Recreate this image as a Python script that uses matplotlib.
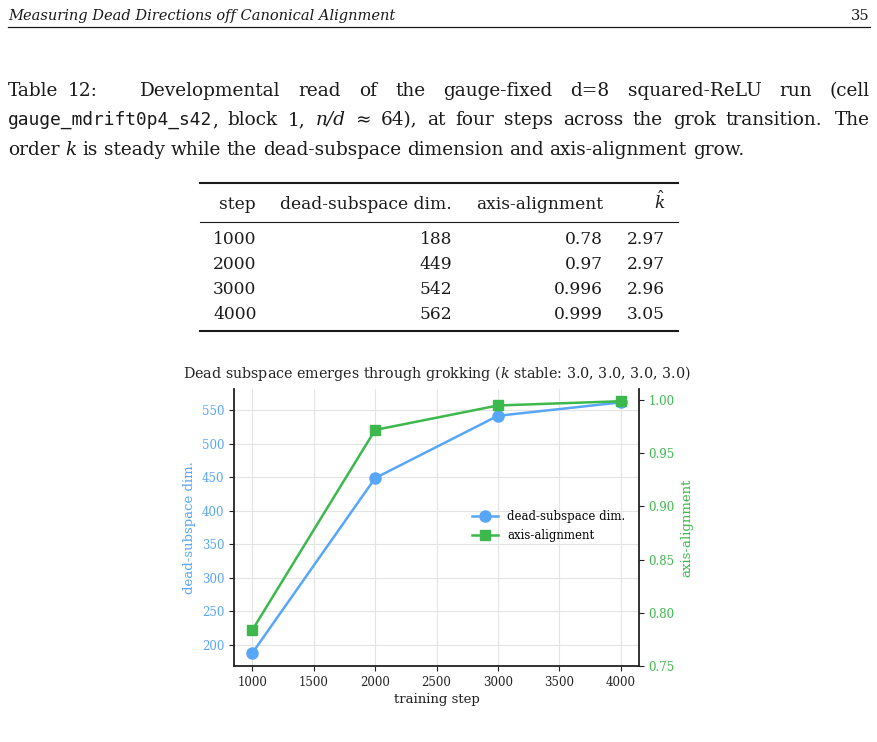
import matplotlib
matplotlib.use("Agg")
import matplotlib.pyplot as plt
from matplotlib.lines import Line2D

# ---------------- data ----------------
steps = [1000, 2000, 3000, 4000]
dead_dim = [188, 449, 542, 562]
axis_align = [0.784, 0.972, 0.995, 0.999]
k_hat = [2.97, 2.97, 2.96, 3.05]
table_align_labels = ["0.78", "0.97", "0.996", "0.999"]
table_header = ["step", "dead-subspace dim.", "axis-alignment"]
left_ticks = [200, 250, 300, 350, 400, 450, 500, 550]
right_ticks = [0.75, 0.80, 0.85, 0.90, 0.95, 1.00]
x_ticks = [1000, 1500, 2000, 2500, 3000, 3500, 4000]

BLUE = "#58a6f6"
GREEN = "#3db84c"
TXT = "#1a1a1a"

plt.rcParams["mathtext.fontset"] = "dejavuserif"
W, H = 877, 742
fig = plt.figure(figsize=(W / 100, H / 100), dpi=100)
renderer = fig.canvas.get_renderer()

def fx(x):
    return x / W

def fy(y):
    return 1 - y / H

SERIF = "DejaVu Serif"
MONO = "DejaVu Sans Mono"
MONO_SCALE = 0.97

def piece_width(text, size, family=SERIF, style="normal"):
    t = fig.text(0, 0, text, fontsize=size, family=family, style=style)
    w = t.get_window_extent(renderer).width
    t.remove()
    return w

line3 = [[("order", "n")], [("k", "i")], [("is", "n")], [("steady", "n")], [("while", "n")],
         [("the", "n")], [("dead-subspace", "n")], [("dimension", "n")], [("and", "n")],
         [("axis-alignment", "n")], [("grow.", "n")]]

def pw(p, size):
    txt, st = p
    if st == "m":
        return piece_width(txt, size * MONO_SCALE, MONO)
    if st == "i":
        return piece_width(txt, size, SERIF, "italic")
    return piece_width(txt, size)

def word_w(word, size):
    return sum(pw(p, size) for p in word)

def draw_piece(x, base, p, size):
    txt, st = p
    kw = dict(fontsize=size, color=TXT, va="baseline", ha="left")
    if st == "m":
        fig.text(fx(x), fy(base), txt, family=MONO, fontsize=size * MONO_SCALE, color=TXT, va="baseline")
    elif st == "i":
        fig.text(fx(x), fy(base), txt, family=SERIF, style="italic", **kw)
    else:
        fig.text(fx(x), fy(base), txt, family=SERIF, **kw)
    return pw(p, size)

def draw_line(words, x0, x1, base, size, justify=True, weights=None):
    widths = [word_w(w, size) for w in words]
    n = len(words) - 1
    if weights is None:
        weights = [1.0] * n
    if justify:
        unit = (x1 - x0 - sum(widths)) / sum(weights)
        gaps = [unit * wt for wt in weights]
    else:
        sp = piece_width("a b", size) - piece_width("ab", size)
        gaps = [sp] * n
    x = x0
    for i, (w, ww) in enumerate(zip(words, widths)):
        xx = x
        for p in w:
            xx += draw_piece(xx, base, p, size)
        if i < n:
            x += ww + gaps[i]

base_size = 10.0
space = piece_width("a b", base_size) - piece_width("ab", base_size)
nat = sum(word_w(w, base_size) for w in line3) + space * (len(line3) - 1)
cap_size = base_size * 740 / nat

line1 = [[(s, "n")] for s in ["Table", "12:", "Developmental", "read", "of", "the",
                               "gauge-fixed", "d=8", "squared-ReLU", "run", "(cell"]]
line2 = [[("gauge_mdrift0p4_s42", "m"), (",", "n")], [("block", "n")], [("1,", "n")],
         [("n/d", "i")], [("≈", "n")], [("64),", "n")], [("at", "n")], [("four", "n")],
         [("steps", "n")], [("across", "n")], [("the", "n")], [("grok", "n")],
         [("transition.", "n")], [("The", "n")]]

draw_line(line1, 8, 870, 96, cap_size, weights=[0.5, 2.4] + [1.0] * 8)
draw_line(line2, 8, 870, 125, cap_size, weights=[1.0] * 12 + [1.3])
draw_line(line3, 8, 870, 155, cap_size, justify=False)

# ---------------- page header ----------------
hdr = "Measuring Dead Directions off Canonical Alignment"
hs = 10.0 * 387 / piece_width(hdr, 10.0, SERIF, "italic")
fig.text(fx(8), fy(20), hdr, family=SERIF, style="italic", fontsize=hs, color=TXT, va="baseline")
fig.text(fx(870), fy(20), "35", family=SERIF, fontsize=hs, color=TXT, va="baseline", ha="right")
fig.add_artist(Line2D([fx(8), fx(870)], [fy(26.5), fy(26.5)], color=TXT, lw=0.9))

# ---------------- table ----------------
ts = 10.0 * 172 / piece_width("dead-subspace dim.", 10.0)
fig.add_artist(Line2D([fx(200), fx(678)], [fy(183), fy(183)], color=TXT, lw=1.5))
fig.add_artist(Line2D([fx(200), fx(678)], [fy(221.5), fy(221.5)], color=TXT, lw=0.8))
fig.add_artist(Line2D([fx(200), fx(678)], [fy(331), fy(331)], color=TXT, lw=1.5))
hb = 209
fig.text(fx(256), fy(hb), table_header[0], family=SERIF, fontsize=ts, color=TXT, va="baseline", ha="right")
fig.text(fx(452), fy(hb), table_header[1], family=SERIF, fontsize=ts, color=TXT, va="baseline", ha="right")
fig.text(fx(603), fy(hb), table_header[2], family=SERIF, fontsize=ts, color=TXT, va="baseline", ha="right")
fig.text(fx(665), fy(hb), r"$\hat{k}$", fontsize=ts, color=TXT, va="baseline", ha="right")
row_bases = [244, 269, 294, 319]
for i, b in enumerate(row_bases):
    fig.text(fx(213), fy(b), str(steps[i]), family=SERIF, fontsize=ts, color=TXT, va="baseline", ha="left")
    fig.text(fx(452), fy(b), str(dead_dim[i]), family=SERIF, fontsize=ts, color=TXT, va="baseline", ha="right")
    fig.text(fx(603), fy(b), table_align_labels[i], family=SERIF, fontsize=ts, color=TXT, va="baseline", ha="right")
    fig.text(fx(665), fy(b), f"{k_hat[i]:.2f}", family=SERIF, fontsize=ts, color=TXT, va="baseline", ha="right")

# ---------------- chart ----------------
plt.rcParams["font.family"] = SERIF
ax = fig.add_axes([fx(234), fy(666), fx(639) - fx(234), fy(389) - fy(666)])
ax2 = ax.twinx()

l1, = ax.plot(steps, dead_dim, color=BLUE, lw=1.8, marker="o", ms=8, label="dead-subspace dim.", zorder=3)
l2, = ax2.plot(steps, axis_align, color=GREEN, lw=1.8, marker="s", ms=7.5, label="axis-alignment", zorder=3)

ax.set_xlim(850, 4150)
ax.set_ylim(168.5, 582)
ax2.set_ylim(0.75, 1.0105)
ax.set_xticks(x_ticks)
ax.set_yticks(left_ticks)
ax2.set_yticks(right_ticks)
ax2.set_yticklabels([f"{v:.2f}" for v in right_ticks])

ax.grid(True, color="#e4e4e4", lw=0.8)
ax.set_axisbelow(True)

for a in (ax, ax2):
    a.spines["top"].set_visible(False)
    for s in a.spines.values():
        s.set_linewidth(1.3)
        s.set_color("#222222")
ax.spines["right"].set_visible(False)
ax2.spines["left"].set_visible(False)
ax2.spines["bottom"].set_visible(False)

ax.tick_params(axis="x", labelsize=8.5, colors="#222222", labelcolor="#222222")
ax.tick_params(axis="y", labelsize=8.5, colors="#222222", labelcolor=BLUE)
ax2.tick_params(axis="y", labelsize=8.5, colors="#222222", labelcolor=GREEN)

ax.set_xlabel("training step", fontsize=9.5, color="#222222", labelpad=3)
ax.set_ylabel("dead-subspace dim.", fontsize=9.5, color=BLUE, labelpad=4)
ax2.set_ylabel("axis-alignment", fontsize=9.5, color=GREEN, labelpad=4)
ax.set_title(r"Dead subspace emerges through grokking ($k$ stable: 3.0, 3.0, 3.0, 3.0)",
             fontsize=10.3, color="#222222", pad=8)

ax2.legend([l1, l2], [l1.get_label(), l2.get_label()], loc="upper left",
           bbox_to_anchor=(0.575, 0.58), borderaxespad=0, frameon=False,
           fontsize=8.5, handlelength=2.2, labelspacing=0.5)

fig.savefig("out.png", dpi=100)
